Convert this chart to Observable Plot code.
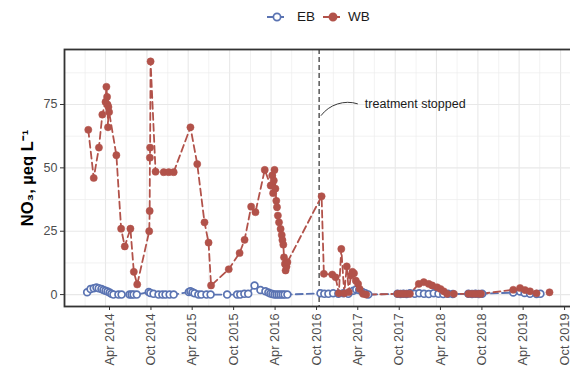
<!DOCTYPE html>
<html>
<head>
<meta charset="utf-8">
<script src="https://cdn.jsdelivr.net/npm/d3@7"></script>
<script src="https://cdn.jsdelivr.net/npm/@observablehq/plot@0.6"></script>
<style>
  html, body { margin: 0; padding: 0; background: white; overflow: hidden; }
  #legend { position: relative; height: 35px; width: 570px; font-family: "Liberation Sans", Arial, sans-serif; font-size: 13.5px; color: #1a1a1a; }
  #legend .k { position: absolute; top: 8px; }
  #legend .t { position: absolute; top: 9px; }
</style>
</head>
<body>
<div id="legend"></div>
<div id="chart"></div>
<script>
// ---- data ----
const series = ["EB", "WB"];
const seriesColors = ["#5a73b2", "#b2524a"];

const ebDates = ["2014-01-10","2014-01-25","2014-02-08","2014-02-20","2014-03-02","2014-03-14","2014-03-23","2014-04-01","2014-04-10","2014-04-19","2014-04-27","2014-05-06","2014-05-28","2014-06-11","2014-07-16","2014-07-25","2014-08-03","2014-08-17","2014-10-09","2014-10-16","2014-10-30","2014-11-21","2014-12-08","2014-12-22","2015-01-09","2015-01-27","2015-04-04","2015-04-11","2015-04-20","2015-04-29","2015-05-16","2015-05-29","2015-06-21","2015-07-09","2015-09-20","2015-11-03","2015-11-17","2015-12-05","2015-12-22","2016-01-19","2016-02-14","2016-03-07","2016-03-20","2016-03-29","2016-04-07","2016-04-16","2016-04-25","2016-05-04","2016-05-13","2016-05-22","2016-05-31","2016-06-12","2016-11-05","2016-11-22","2016-12-10","2016-12-31","2017-01-23","2017-02-14","2017-03-08","2017-03-30","2017-04-12","2017-04-25","2017-05-09","2017-05-22","2017-06-04","2017-10-11","2017-10-24","2017-11-06","2017-11-20","2017-12-05","2017-12-26","2018-01-15","2018-02-05","2018-02-26","2018-03-20","2018-04-10","2018-05-01","2018-05-22","2018-06-12","2018-08-20","2018-09-05","2018-09-20","2018-10-05","2018-10-20","2019-03-06","2019-04-05","2019-04-25","2019-05-19","2019-06-17","2019-07-04"];
const ebValues = [0.9,2.2,2.5,2.8,2.5,2.2,1.8,1.5,1.2,0.8,0.3,0,0,0,0,0,0,0,1.0,0.6,0.3,0,0,0,0,0,1.0,1.3,0.9,0.5,0,0,0,0,0,0,0,0.3,0.3,3.6,1.8,1.3,0.8,0.4,0.2,0,0,0,0,0,0,0,0.5,0.3,0.3,0.5,0.3,0.5,0.3,1.5,2.0,1.8,1.0,0.5,0,0.3,0.2,0.3,0.2,0.5,0.3,0.5,0.3,0.2,0.5,0.3,0.2,0.3,0.2,0.3,0.2,0.3,0.2,0.3,0.8,1.2,0.6,0.3,0.2,0.3];

const wbDates = ["2014-01-15","2014-02-08","2014-03-03","2014-03-18","2014-04-01","2014-04-05","2014-04-08","2014-04-10","2014-04-12","2014-04-14","2014-04-17","2014-05-19","2014-06-09","2014-06-25","2014-07-20","2014-08-04","2014-08-19","2014-10-11","2014-10-13","2014-10-14","2014-10-15","2014-10-17","2014-11-08","2014-12-14","2015-01-05","2015-01-27","2015-04-11","2015-05-11","2015-06-12","2015-06-30","2015-07-11","2015-09-27","2015-11-14","2015-12-06","2016-01-04","2016-01-23","2016-03-04","2016-03-30","2016-04-06","2016-04-10","2016-04-13","2016-04-16","2016-04-20","2016-04-24","2016-04-27","2016-05-01","2016-05-06","2016-05-13","2016-05-18","2016-05-21","2016-05-25","2016-05-28","2016-06-01","2016-06-04","2016-06-08","2016-06-12","2016-11-10","2016-11-20","2016-12-27","2017-01-11","2017-01-25","2017-02-05","2017-02-18","2017-03-01","2017-03-10","2017-03-19","2017-03-26","2017-04-02","2017-04-10","2017-04-20","2017-04-27","2017-05-12","2017-05-26","2017-10-11","2017-10-24","2017-11-06","2017-11-20","2017-12-05","2018-01-13","2018-02-04","2018-02-26","2018-03-13","2018-04-04","2018-04-19","2018-05-03","2018-05-18","2018-06-17","2018-08-20","2018-09-05","2018-09-20","2018-10-05","2018-10-15","2019-03-06","2019-04-05","2019-04-27","2019-05-19","2019-06-17","2019-08-13"];
const wbValues = [65,46,58,71,76,82,78,75,66,74,72,55,26,19,26,9,4,25,33,54,58,92,48.5,48.3,48.3,48.3,66,51.5,28.5,20.5,3.6,10,16.4,21.6,34.7,32.5,49.2,43,47,40,45,49.2,41.8,37,34.5,31.2,28.5,25.9,23.5,21.5,19.7,14.7,12.1,9.5,11,12.8,38.8,8.2,7.9,6.8,0.5,18,0.5,11.1,1,7.5,9,8.4,5.5,4.2,2.2,0.3,0,0.3,0.3,0.3,0.3,0.3,4.2,4.9,4.2,3.6,2.9,2.2,1.3,0.3,0.3,0.3,0.3,0.3,0.3,0.3,1.9,2.6,1.8,1.3,0.5,0.9];

const xTickDates = ["2014-04-01","2014-10-01","2015-04-01","2015-10-01","2016-04-01","2016-10-01","2017-04-01","2017-10-01","2018-04-01","2018-10-01","2019-04-01","2019-10-01"];
const xMinorDates = ["2014-01-01","2014-07-01","2015-01-01","2015-07-01","2016-01-01","2016-07-01","2017-01-01","2017-07-01","2018-01-01","2018-07-01","2019-01-01","2019-07-01"];
const yTicks = [0, 25, 50, 75];
const yMinor = [12.5, 37.5, 62.5, 87.5];
const yTitle = "NO\u2083, \u00b5eq L\u207b\u00b9";

const stopDate = ["2016-10-30"];
const noteLabel = ["treatment stopped"];
const noteFrom = {date: "2016-11-08", value: 70.7};
const noteTo = {date: "2017-04-17", value: 75.3};
const noteTextAt = {date: "2017-05-20", value: 75.3};

// ---- build ----
const P = d => new Date(d + "T00:00:00Z");
const eb = ebDates.map((d, i) => ({date: P(d), value: ebValues[i]}));
const wb = wbDates.map((d, i) => ({date: P(d), value: wbValues[i]}));

const font = "'Liberation Sans', Arial, sans-serif";

// legend (HTML)
const leg = document.getElementById("legend");
const keyLefts = [266, 322], textLefts = [297, 348];
series.forEach((s, i) => {
  const fill = i === 0 ? "white" : seriesColors[i];
  leg.insertAdjacentHTML("beforeend",
    `<svg class="k" style="left:${keyLefts[i]}px" width="20" height="18">
       <line x1="1" x2="19" y1="9" y2="9" stroke="${seriesColors[i]}" stroke-width="1.8" stroke-dasharray="7,3"/>
       <circle cx="11" cy="9" r="3.6" fill="${fill}" stroke="${seriesColors[i]}" stroke-width="1.7"/>
     </svg><span class="t" style="left:${textLefts[i]}px">${s}</span>`);
});

const chart = Plot.plot({
  width: 570,
  height: 341,
  marginTop: 14,
  marginBottom: 70,
  marginLeft: 64,
  marginRight: -3,
  style: {fontFamily: font, background: "white"},
  x: {type: "utc", domain: [P("2013-10-02"), P("2019-11-27")]},
  y: {domain: [-4.7, 96.7]},
  marks: [
    Plot.gridX(xMinorDates.map(P), {stroke: "#ededed", strokeOpacity: 1, strokeWidth: 0.7}),
    Plot.gridX(xTickDates.map(P), {stroke: "#e8e8e8", strokeOpacity: 1, strokeWidth: 1.1}),
    Plot.gridY(yMinor, {stroke: "#ededed", strokeOpacity: 1, strokeWidth: 0.7}),
    Plot.gridY(yTicks, {stroke: "#e8e8e8", strokeOpacity: 1, strokeWidth: 1.1}),
    Plot.ruleX(stopDate.map(P), {stroke: "#1a1a1a", strokeWidth: 1.1, strokeDasharray: "5,3"}),
    Plot.line(eb, {x: "date", y: "value", stroke: seriesColors[0], strokeWidth: 1.8, strokeDasharray: "7,4"}),
    Plot.line(wb, {x: "date", y: "value", stroke: seriesColors[1], strokeWidth: 1.8, strokeDasharray: "7,4"}),
    Plot.dot(eb, {x: "date", y: "value", r: 3.4, fill: "white", stroke: seriesColors[0], strokeWidth: 1.7}),
    Plot.dot(wb, {x: "date", y: "value", r: 3.6, fill: seriesColors[1], stroke: seriesColors[1], strokeWidth: 0.5}),
    Plot.arrow([0], {x1: () => P(noteFrom.date), y1: () => noteFrom.value, x2: () => P(noteTo.date), y2: () => noteTo.value, bend: 35, headLength: 0, stroke: "#222", strokeWidth: 0.9}),
    Plot.text(noteLabel, {x: () => P(noteTextAt.date), y: () => noteTextAt.value, text: d => d, textAnchor: "start", fontSize: 12.5, fill: "#1a1a1a"}),
    Plot.frame({stroke: "#333", strokeWidth: 1.8}),
    Plot.axisY(yTicks, {tickSize: 4, tickPadding: 3, fontSize: 12.5, stroke: "#333", fill: "#4d4d4d", label: null}),
    Plot.axisX(xTickDates.map(P), {tickSize: 4, tickPadding: 3, tickRotate: -90, dx: 4, fontSize: 12.8, stroke: "#333", fill: "#4d4d4d", tickFormat: d3.utcFormat("%b %Y"), label: null}),
    Plot.text([yTitle], {frameAnchor: "left", textAnchor: "middle", rotate: -90, dx: -37, fontSize: 16.5, fontWeight: "bold", fill: "#000", text: d => d})
  ]
});
document.getElementById("chart").appendChild(chart);
</script>
</body>
</html>
